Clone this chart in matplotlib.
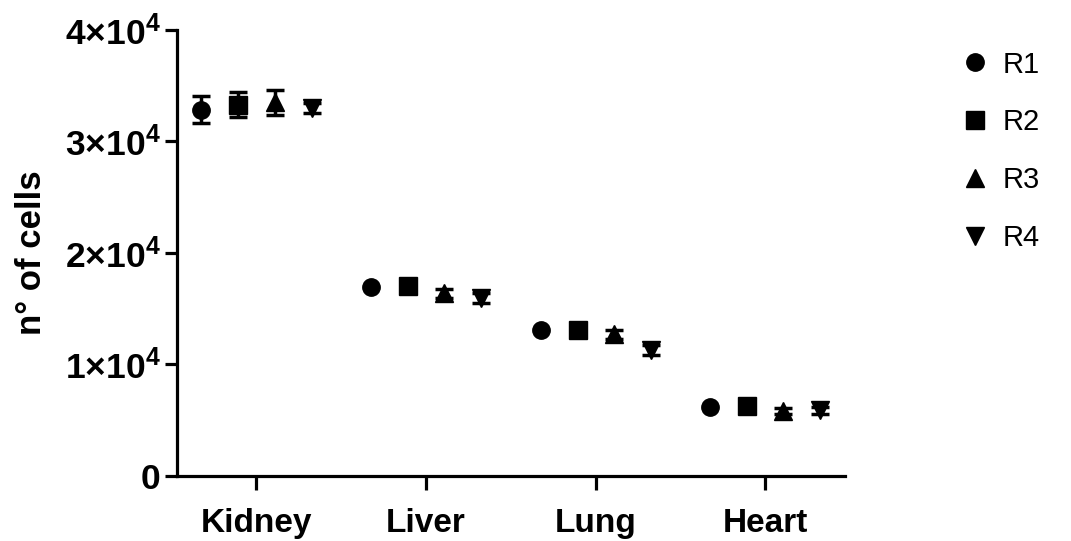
import numpy as np
import matplotlib
matplotlib.use("Agg")
import matplotlib.pyplot as plt

plt.rcParams['font.family'] = ['Liberation Sans', 'DejaVu Sans']
plt.rcParams['mathtext.fontset'] = 'custom'
plt.rcParams['mathtext.rm'] = 'Liberation Sans:bold'
plt.rcParams['mathtext.bf'] = 'Liberation Sans:bold'

organs = ['Kidney', 'Liver', 'Lung', 'Heart']
series = ['R1', 'R2', 'R3', 'R4']
markers = ['o', 's', '^', 'v']

# mean values per replicate (columns: Kidney, Liver, Lung, Heart)
r1 = [32850, 16950, 13050, 6200]
r2 = [33300, 17000, 13050, 6300]
r3 = [33500, 16400, 12700, 5850]
r4 = [33000, 15950, 11300, 5900]
# error bars (nan = hidden behind the marker)
r1_err = [1200, np.nan, np.nan, np.nan]
r2_err = [1100, np.nan, np.nan, np.nan]
r3_err = [1100, 400, 400, 250]
r4_err = [450, 450, 450, 300]

means = [r1, r2, r3, r4]
errs = [r1_err, r2_err, r3_err, r4_err]
offsets = [-0.325, -0.107, 0.107, 0.325]

fig = plt.figure(figsize=(10.71, 5.41), dpi=100)
ax = fig.add_axes([0.165, 0.12, 0.624, 0.825])

x = np.arange(len(organs))
for i in range(4):
    ax.errorbar(x + offsets[i], means[i], yerr=errs[i], fmt=markers[i],
                color='black', markersize=12.5, elinewidth=2.5, capsize=6.5,
                capthick=2.5, label=series[i], clip_on=False)

ax.set_xlim(-0.47, 3.47)
ax.set_ylim(0, 40000)
ax.set_yticks([0, 10000, 20000, 30000, 40000])
ax.set_yticklabels(['0', r'$\mathbf{1{\times}10^{4}}$', r'$\mathbf{2{\times}10^{4}}$',
                    r'$\mathbf{3{\times}10^{4}}$', r'$\mathbf{4{\times}10^{4}}$'])
ax.set_xticks(x)
ax.set_xticklabels(organs)
for lab in ax.get_xticklabels():
    lab.set_fontsize(24)
    lab.set_fontweight('bold')
for lab in ax.get_yticklabels():
    lab.set_fontsize(25.5)
    lab.set_fontweight('bold')

ax.set_ylabel('n° of cells', fontsize=25, fontweight='bold', labelpad=12)

for s in ['top', 'right']:
    ax.spines[s].set_visible(False)
for s in ['left', 'bottom']:
    ax.spines[s].set_linewidth(2.3)
ax.tick_params(axis='y', width=2.3, length=8.5, pad=3)
ax.tick_params(axis='x', width=2.3, length=10, pad=13)

handles, labels = ax.get_legend_handles_labels()
handles = [h[0] for h in handles]
leg = fig.legend(handles, labels, loc='upper left', bbox_to_anchor=(0.875, 0.955),
                 frameon=False, fontsize=21, handletextpad=0.55, labelspacing=1.02,
                 handlelength=0.8, markerscale=1.0)

fig.savefig('out.png', dpi=100)
